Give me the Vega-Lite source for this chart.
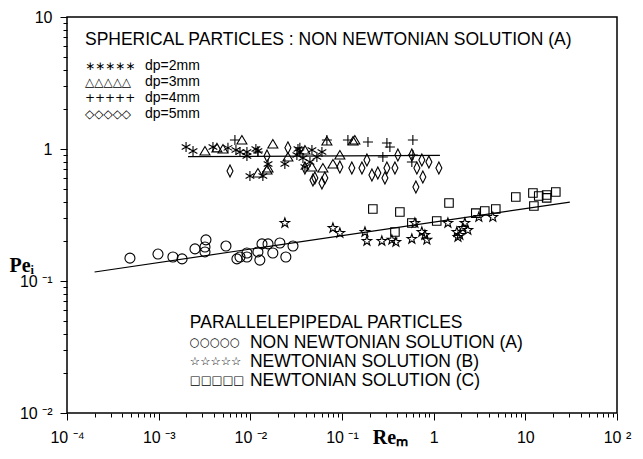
{
  "$schema": "https://vega.github.io/schema/vega-lite/v6.json",
  "width": 550,
  "height": 396,
  "autosize": {"type": "none"},
  "padding": {"left": 67, "top": 17, "right": 26, "bottom": 46},
  "background": "white",
  "config": {
    "view": {"stroke": "black", "strokeWidth": 1.5},
    "font": "Liberation Sans"
  },
  "datasets": {
    "pts": [
      {"series": "dp=2mm", "x": 0.00199, "y": 1.035},
      {"series": "dp=2mm", "x": 0.00237, "y": 0.966},
      {"series": "dp=2mm", "x": 0.00391, "y": 1.035},
      {"series": "dp=2mm", "x": 0.0057, "y": 1.02},
      {"series": "dp=2mm", "x": 0.00697, "y": 0.982},
      {"series": "dp=2mm", "x": 0.00771, "y": 0.949},
      {"series": "dp=2mm", "x": 0.00918, "y": 0.949},
      {"series": "dp=2mm", "x": 0.00918, "y": 0.885},
      {"series": "dp=2mm", "x": 0.0115, "y": 1.0},
      {"series": "dp=2mm", "x": 0.0121, "y": 0.966},
      {"series": "dp=2mm", "x": 0.0099, "y": 0.624},
      {"series": "dp=2mm", "x": 0.0137, "y": 0.624},
      {"series": "dp=2mm", "x": 0.0156, "y": 0.77},
      {"series": "dp=2mm", "x": 0.0238, "y": 0.77},
      {"series": "dp=2mm", "x": 0.0331, "y": 1.0},
      {"series": "dp=2mm", "x": 0.0322, "y": 0.901},
      {"series": "dp=2mm", "x": 0.0347, "y": 0.949},
      {"series": "dp=2mm", "x": 0.0375, "y": 0.855},
      {"series": "dp=2mm", "x": 0.0394, "y": 0.731},
      {"series": "dp=2mm", "x": 0.0447, "y": 0.798},
      {"series": "dp=2mm", "x": 0.047, "y": 0.982},
      {"series": "dp=2mm", "x": 0.0532, "y": 0.869},
      {"series": "dp=2mm", "x": 0.0604, "y": 0.949},
      {"series": "dp=3mm", "x": 0.0032, "y": 0.966},
      {"series": "dp=3mm", "x": 0.00432, "y": 1.02},
      {"series": "dp=3mm", "x": 0.00503, "y": 1.0},
      {"series": "dp=3mm", "x": 0.00809, "y": 1.17},
      {"series": "dp=3mm", "x": 0.0121, "y": 0.658},
      {"series": "dp=3mm", "x": 0.0152, "y": 0.693},
      {"series": "dp=3mm", "x": 0.0156, "y": 0.718},
      {"series": "dp=3mm", "x": 0.0176, "y": 1.09},
      {"series": "dp=3mm", "x": 0.0257, "y": 0.869},
      {"series": "dp=3mm", "x": 0.0394, "y": 0.982},
      {"series": "dp=3mm", "x": 0.047, "y": 0.731},
      {"series": "dp=3mm", "x": 0.0619, "y": 0.718},
      {"series": "dp=3mm", "x": 0.0684, "y": 1.15},
      {"series": "dp=3mm", "x": 0.0796, "y": 0.77},
      {"series": "dp=3mm", "x": 0.0948, "y": 0.901},
      {"series": "dp=3mm", "x": 0.132, "y": 1.15},
      {"series": "dp=3mm", "x": 0.138, "y": 1.17},
      {"series": "dp=4mm", "x": 0.00679, "y": 1.17},
      {"series": "dp=4mm", "x": 0.0121, "y": 0.949},
      {"series": "dp=4mm", "x": 0.0347, "y": 1.02},
      {"series": "dp=4mm", "x": 0.0684, "y": 1.17},
      {"series": "dp=4mm", "x": 0.116, "y": 1.17},
      {"series": "dp=4mm", "x": 0.192, "y": 1.13},
      {"series": "dp=4mm", "x": 0.279, "y": 0.869},
      {"series": "dp=4mm", "x": 0.309, "y": 1.11},
      {"series": "dp=4mm", "x": 0.333, "y": 1.035},
      {"series": "dp=4mm", "x": 0.578, "y": 0.798},
      {"series": "dp=4mm", "x": 0.593, "y": 1.17},
      {"series": "dp=4mm", "x": 0.593, "y": 0.901},
      {"series": "dp=5mm", "x": 0.006, "y": 0.681},
      {"series": "dp=5mm", "x": 0.0152, "y": 0.885},
      {"series": "dp=5mm", "x": 0.0257, "y": 1.02},
      {"series": "dp=5mm", "x": 0.0394, "y": 0.718},
      {"series": "dp=5mm", "x": 0.0482, "y": 0.582},
      {"series": "dp=5mm", "x": 0.0506, "y": 0.603},
      {"series": "dp=5mm", "x": 0.0604, "y": 0.552},
      {"series": "dp=5mm", "x": 0.065, "y": 0.603},
      {"series": "dp=5mm", "x": 0.0948, "y": 0.731},
      {"series": "dp=5mm", "x": 0.128, "y": 0.718},
      {"series": "dp=5mm", "x": 0.165, "y": 0.718},
      {"series": "dp=5mm", "x": 0.187, "y": 0.826},
      {"series": "dp=5mm", "x": 0.212, "y": 0.635},
      {"series": "dp=5mm", "x": 0.246, "y": 0.658},
      {"series": "dp=5mm", "x": 0.294, "y": 0.603},
      {"series": "dp=5mm", "x": 0.309, "y": 0.718},
      {"series": "dp=5mm", "x": 0.378, "y": 0.718},
      {"series": "dp=5mm", "x": 0.407, "y": 0.901},
      {"series": "dp=5mm", "x": 0.578, "y": 0.901},
      {"series": "dp=5mm", "x": 0.64, "y": 0.515},
      {"series": "dp=5mm", "x": 0.656, "y": 0.718},
      {"series": "dp=5mm", "x": 0.743, "y": 0.826},
      {"series": "dp=5mm", "x": 0.762, "y": 0.614},
      {"series": "dp=5mm", "x": 0.887, "y": 0.798},
      {"series": "dp=5mm", "x": 1.14, "y": 0.718},
      {"series": "A", "x": 0.000486, "y": 0.149},
      {"series": "A", "x": 0.000983, "y": 0.16},
      {"series": "A", "x": 0.00143, "y": 0.152},
      {"series": "A", "x": 0.0018, "y": 0.147},
      {"series": "A", "x": 0.00249, "y": 0.175},
      {"series": "A", "x": 0.0032, "y": 0.181},
      {"series": "A", "x": 0.00328, "y": 0.205},
      {"series": "A", "x": 0.0032, "y": 0.166},
      {"series": "A", "x": 0.00542, "y": 0.184},
      {"series": "A", "x": 0.00714, "y": 0.147},
      {"series": "A", "x": 0.00771, "y": 0.152},
      {"series": "A", "x": 0.00918, "y": 0.152},
      {"series": "A", "x": 0.00918, "y": 0.163},
      {"series": "A", "x": 0.0127, "y": 0.144},
      {"series": "A", "x": 0.0121, "y": 0.166},
      {"series": "A", "x": 0.0134, "y": 0.191},
      {"series": "A", "x": 0.0156, "y": 0.191},
      {"series": "A", "x": 0.0176, "y": 0.163},
      {"series": "A", "x": 0.021, "y": 0.194},
      {"series": "A", "x": 0.0244, "y": 0.152},
      {"series": "A", "x": 0.0292, "y": 0.184},
      {"series": "B", "x": 0.0238, "y": 0.275},
      {"series": "B", "x": 0.0796, "y": 0.252},
      {"series": "B", "x": 0.0948, "y": 0.231},
      {"series": "B", "x": 0.178, "y": 0.235},
      {"series": "B", "x": 0.187, "y": 0.201},
      {"series": "B", "x": 0.272, "y": 0.201},
      {"series": "B", "x": 0.35, "y": 0.205},
      {"series": "B", "x": 0.387, "y": 0.197},
      {"series": "B", "x": 0.578, "y": 0.208},
      {"series": "B", "x": 0.624, "y": 0.275},
      {"series": "B", "x": 0.743, "y": 0.235},
      {"series": "B", "x": 0.802, "y": 0.223},
      {"series": "B", "x": 0.843, "y": 0.205},
      {"series": "B", "x": 1.43, "y": 0.275},
      {"series": "B", "x": 1.79, "y": 0.235},
      {"series": "B", "x": 1.84, "y": 0.215},
      {"series": "B", "x": 1.93, "y": 0.223},
      {"series": "B", "x": 2.08, "y": 0.252},
      {"series": "B", "x": 2.19, "y": 0.275},
      {"series": "B", "x": 2.36, "y": 0.243},
      {"series": "B", "x": 3.11, "y": 0.305},
      {"series": "B", "x": 4.42, "y": 0.305},
      {"series": "C", "x": 0.217, "y": 0.351},
      {"series": "C", "x": 0.378, "y": 0.235},
      {"series": "C", "x": 0.428, "y": 0.333},
      {"series": "C", "x": 0.578, "y": 0.275},
      {"series": "C", "x": 1.08, "y": 0.285},
      {"series": "C", "x": 1.47, "y": 0.39},
      {"series": "C", "x": 2.88, "y": 0.327},
      {"series": "C", "x": 3.61, "y": 0.339},
      {"series": "C", "x": 4.76, "y": 0.351},
      {"series": "C", "x": 7.87, "y": 0.433},
      {"series": "C", "x": 12.1, "y": 0.464},
      {"series": "C", "x": 12.4, "y": 0.37},
      {"series": "C", "x": 14.0, "y": 0.441},
      {"series": "C", "x": 17.1, "y": 0.448},
      {"series": "C", "x": 17.1, "y": 0.426},
      {"series": "C", "x": 21.5, "y": 0.472}
    ],
    "fits": [
      {"fit": "parallelepipedal", "x": 0.0002, "y": 0.117},
      {"fit": "parallelepipedal", "x": 30.6, "y": 0.396},
      {"fit": "spherical", "x": 0.00209, "y": 0.875},
      {"fit": "spherical", "x": 1.17, "y": 0.895}
    ],
    "headings": [
      {"x": 0.000157, "y": 6.7, "label": "SPHERICAL PARTICLES : NON NEWTONIAN SOLUTION (A)"},
      {"x": 0.00219, "y": 0.0481, "label": "PARALLELEPIPEDAL PARTICLES"},
      {"x": 0.0099, "y": 0.0339, "label": "NON  NEWTONIAN SOLUTION (A)"},
      {"x": 0.0099, "y": 0.0243, "label": "NEWTONIAN SOLUTION (B)"},
      {"x": 0.0099, "y": 0.0175, "label": "NEWTONIAN SOLUTION (C)"}
    ],
    "keys": [
      {"x": 0.00071, "y": 4.26, "label": "dp=2mm"},
      {"x": 0.00071, "y": 3.22, "label": "dp=3mm"},
      {"x": 0.00071, "y": 2.43, "label": "dp=4mm"},
      {"x": 0.00071, "y": 1.84, "label": "dp=5mm"}
    ],
    "symsTop": [
      {"x": 0.000157, "y": 4.26, "label": "∗∗∗∗∗"},
      {"x": 0.000157, "y": 3.22, "label": "△△△△△"},
      {"x": 0.000157, "y": 2.43, "label": "+++++"},
      {"x": 0.000157, "y": 1.84, "label": "◇◇◇◇◇"}
    ],
    "symsLow": [
      {"x": 0.00219, "y": 0.0339, "label": "○○○○○"},
      {"x": 0.00219, "y": 0.0243, "label": "☆☆☆☆☆"},
      {"x": 0.00219, "y": 0.0175, "label": "□□□□□"}
    ]
  },
  "encoding": {
    "x": {
      "field": "x", "type": "quantitative",
      "scale": {"type": "log", "domain": [0.0001, 100], "nice": false},
      "axis": {
        "values": [0.0001,0.0002,0.0003,0.0004,0.0005,0.0006,0.0007,0.0008,0.0009,0.001,0.002,0.003,0.004,0.005,0.006,0.007,0.008,0.009,0.01,0.02,0.03,0.04,0.05,0.06,0.07,0.08,0.09,0.1,0.2,0.3,0.4,0.5,0.6,0.7,0.8,0.9,1,2,3,4,5,6,7,8,9,10,20,30,40,50,60,70,80,90,100],
        "labelExpr": "datum.value==0.0001?'10 ⁻⁴':datum.value==0.001?'10 ⁻³':datum.value==0.01?'10 ⁻²':datum.value==0.1?'10 ⁻¹':datum.value==1?'1':datum.value==10?'10':datum.value==100?'10 ²':''",
        "tickSize": {"condition": {"test": "indexof([0.0001,0.001,0.01,0.1,1,10,100], datum.value) >= 0", "value": 7}, "value": 4},
        "tickColor": "black",
        "tickWidth": 1,
        "grid": false,
        "domain": false,
        "labelOverlap": false,
        "labelFlush": false,
        "labelFont": "Liberation Sans",
        "labelFontSize": 16,
        "labelColor": "black",
        "labelPadding": 9,
        "title": "Reₘ",
        "titleFont": "Liberation Serif",
        "titleFontSize": 20,
        "titleFontWeight": "bold",
        "titleColor": "black",
        "titleX": 323,
        "titleY": 24,
        "titleBaseline": "middle"
      }
    },
    "y": {
      "field": "y", "type": "quantitative",
      "scale": {"type": "log", "domain": [0.01, 10], "nice": false},
      "axis": {
        "values": [0.01,0.02,0.03,0.04,0.05,0.06,0.07,0.08,0.09,0.1,0.2,0.3,0.4,0.5,0.6,0.7,0.8,0.9,1,2,3,4,5,6,7,8,9,10],
        "labelExpr": "datum.value==0.01?'10 ⁻²':datum.value==0.1?'10 ⁻¹':datum.value==1?'1':datum.value==10?'10':''",
        "tickSize": {"condition": {"test": "indexof([0.01,0.1,1,10], datum.value) >= 0", "value": 7}, "value": 4},
        "tickColor": "black",
        "grid": false,
        "domain": false,
        "labelOverlap": false,
        "labelFlush": false,
        "labelFont": "Liberation Sans",
        "labelFontSize": 16,
        "labelColor": "black",
        "labelPadding": 8,
        "title": "Peᵢ",
        "titleFont": "Liberation Serif",
        "titleFontSize": 20,
        "titleFontWeight": "bold",
        "titleColor": "black",
        "titleAngle": 0,
        "titleAlign": "left",
        "titleBaseline": "middle",
        "titleX": -58,
        "titleY": 248
      }
    }
  },
  "layer": [
    {
      "data": {"name": "fits"},
      "mark": {"type": "line", "color": "black", "strokeWidth": 1.2},
      "encoding": {"detail": {"field": "fit"}}
    },
    {
      "data": {"name": "pts"},
      "mark": {"type": "point", "filled": false, "color": "black", "strokeWidth": 1.1, "opacity": 1},
      "encoding": {
        "shape": {
          "field": "series", "type": "nominal", "legend": null,
          "scale": {
            "domain": ["dp=2mm", "dp=3mm", "dp=4mm", "dp=5mm", "A", "B", "C"],
            "range": [
              "M0,-1L0,1M-0.87,-0.5L0.87,0.5M-0.87,0.5L0.87,-0.5",
              "M0,-0.9L1,0.8L-1,0.8Z",
              "M-1,0L1,0M0,-1L0,1",
              "M0,-1.2L0.6,0L0,1.2L-0.6,0Z",
              "circle",
              "M0,-1L0.235,-0.324L0.951,-0.309L0.38,0.124L0.588,0.809L0,0.4L-0.588,0.809L-0.38,0.124L-0.951,-0.309L-0.235,-0.324Z",
              "M-0.85,-0.85L0.85,-0.85L0.85,0.85L-0.85,0.85Z"
            ]
          }
        },
        "size": {"value": 100}
      }
    },
    {
      "data": {"name": "headings"},
      "mark": {"type": "text", "align": "left", "baseline": "middle", "font": "Liberation Sans", "fontSize": 17.5, "color": "black"},
      "encoding": {"text": {"field": "label"}}
    },
    {
      "data": {"name": "keys"},
      "mark": {"type": "text", "align": "left", "baseline": "middle", "font": "Liberation Sans", "fontSize": 14, "color": "black"},
      "encoding": {"text": {"field": "label"}}
    },
    {
      "data": {"name": "symsTop"},
      "mark": {"type": "text", "align": "left", "baseline": "middle", "font": "DejaVu Sans", "fontSize": 12, "color": "black"},
      "encoding": {"text": {"field": "label"}}
    },
    {
      "data": {"name": "symsLow"},
      "mark": {"type": "text", "align": "left", "baseline": "middle", "font": "DejaVu Sans", "fontSize": 11.5, "color": "black"},
      "encoding": {"text": {"field": "label"}}
    }
  ]
}
